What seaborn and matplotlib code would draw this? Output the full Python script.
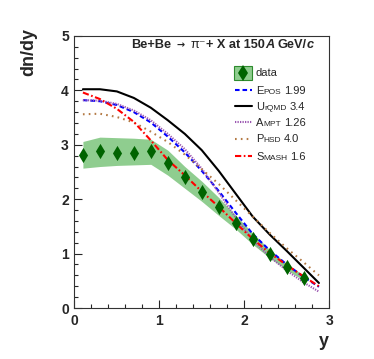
import numpy as np
import pandas as pd
import seaborn as sns
import matplotlib.pyplot as plt
from matplotlib.patches import Rectangle
from matplotlib.ticker import MultipleLocator
from matplotlib.transforms import IdentityTransform

# measured pi- rapidity spectrum (Be+Be, 150A GeV/c)
y_data = [0.1, 0.3, 0.5, 0.7, 0.9, 1.1, 1.3, 1.5, 1.7, 1.9, 2.1, 2.3, 2.5, 2.7]
dndy_data = [2.81, 2.88, 2.84, 2.84, 2.88, 2.66, 2.40, 2.13, 1.85, 1.57, 1.27, 0.99, 0.76, 0.56]
band_hi = [3.06, 3.14, 3.13, 3.12, 3.10, 2.90, 2.60, 2.33, 2.03, 1.70, 1.38, 1.07, 0.82, 0.60]
band_lo = [2.57, 2.60, 2.62, 2.63, 2.64, 2.44, 2.20, 1.96, 1.70, 1.45, 1.17, 0.92, 0.70, 0.51]

# model predictions
y_model = [0.1, 0.3, 0.5, 0.7, 0.9, 1.1, 1.3, 1.5, 1.7, 1.9, 2.1, 2.3, 2.5, 2.7, 2.88]
epos = [3.82, 3.80, 3.73, 3.60, 3.41, 3.15, 2.86, 2.52, 2.15, 1.75, 1.36, 1.06, 0.80, 0.57, 0.39]
urqmd = [4.02, 4.02, 3.98, 3.86, 3.68, 3.45, 3.20, 2.90, 2.52, 2.10, 1.68, 1.35, 1.05, 0.74, 0.46]
ampt = [3.82, 3.81, 3.75, 3.63, 3.45, 3.20, 2.92, 2.56, 2.12, 1.66, 1.25, 0.94, 0.69, 0.47, 0.30]
phsd = [3.56, 3.57, 3.51, 3.41, 3.24, 3.05, 2.82, 2.55, 2.28, 1.98, 1.68, 1.38, 1.10, 0.84, 0.60]
smash = [3.96, 3.84, 3.66, 3.42, 3.08, 2.72, 2.44, 2.14, 1.86, 1.56, 1.27, 1.01, 0.79, 0.58, 0.40]

# (first letter, small caps part, version)
model_names = [("E", "POS", "1.99"), ("U", "rQMD", "3.4"), ("A", "MPT", "1.26"),
               ("P", "HSD", "4.0"), ("S", "MASH", "1.6")]
model_values = [epos, urqmd, ampt, phsd, smash]
model_styles = [
    dict(color="#0000ff", linestyle=(0, (2.2, 1.4))),
    dict(color="black", linestyle="-"),
    dict(color="#9a55b0", linestyle=(0, (0.6, 0.6))),
    dict(color="#b47a45", linestyle=(0, (0.8, 2.0))),
    dict(color="#ff0000", linestyle=(0, (3.0, 1.2, 0.8, 1.2))),
]

band_color = "#8fcd8f"
data_color = "#006400"

sns.set_theme(style="ticks")
plt.rcParams["font.family"] = ["Liberation Sans", "DejaVu Sans"]

fig = plt.figure(figsize=(3.74, 3.59), dpi=100)
ax = fig.add_axes([0.199, 0.142, 0.681, 0.758])

ax.fill_between(y_data, band_lo, band_hi, color=band_color, lw=0, zorder=1)
for vals, st in zip(model_values, model_styles):
    sns.lineplot(x=y_model, y=vals, ax=ax, lw=1.5, zorder=2, **st)
sns.scatterplot(x=y_data, y=dndy_data, ax=ax, marker="d", s=60, color=data_color,
                linewidth=0, zorder=3)

ax.set_xlim(0, 3)
ax.set_ylim(0, 5)
ax.xaxis.set_major_locator(MultipleLocator(1))
ax.xaxis.set_minor_locator(MultipleLocator(0.2))
ax.yaxis.set_major_locator(MultipleLocator(1))
ax.yaxis.set_minor_locator(MultipleLocator(0.2))
ax.tick_params(which="major", direction="in", length=6, width=0.8, labelsize=10, pad=4)
ax.tick_params(which="minor", direction="in", length=3, width=0.8)
for lbl in ax.get_xticklabels() + ax.get_yticklabels():
    lbl.set_fontweight("bold")
for sp in ax.spines.values():
    sp.set_linewidth(0.8)
    sp.set_color("#333333")
ax.set_xlabel("")
ax.set_ylabel("")

fig.text(0.078, 0.922, "dn/dy", rotation=90, ha="center", va="top",
         fontsize=13, fontweight="bold")
fig.text(0.866, 0.05, "y", ha="center", va="center", fontsize=13, fontweight="bold")

H = fig.bbox.height
renderer = fig.canvas.get_renderer()


def chain_text(pieces, px, py):
    # pieces: (string, gap before in pixels, text kwargs); px, py in image pixels
    x = px
    for s, gap, kw in pieces:
        t = fig.text(x + gap, H - py, s, transform=IdentityTransform(),
                     va="baseline", ha="left", **kw)
        x = t.get_window_extent(renderer).x1


# header
B = dict(fontsize=9.2, fontweight="bold")
BI = dict(fontsize=9.2, fontweight="bold", fontstyle="italic")
chain_text([("Be+Be", 0, B),
            ("\u2192", 5, dict(fontsize=7, family="DejaVu Sans", fontweight="bold")),
            ("\u03c0\u207b", 6, dict(fontsize=9.2)),
            ("+ X at 150", 0, B), ("A", 0, BI), ("GeV/", 3, B), ("c", 0, BI)],
           131.5, 48.5)


def ax_x(px):
    return (px - 74.5) / 254.5


def ax_y(py):
    return (308 - py) / 272


# legend
rows = [73, 90, 106, 122, 139, 156]
ax.add_patch(Rectangle((ax_x(234), ax_y(80)), ax_x(252) - ax_x(234), ax_y(66) - ax_y(80),
                       transform=ax.transAxes, facecolor=band_color,
                       edgecolor="#2e8b2e", lw=0.8, zorder=4))
ax.plot([ax_x(243)], [ax_y(rows[0])], transform=ax.transAxes, marker="d",
        ms=8, color=data_color, mew=0, zorder=5)
chain_text([("data", 0, dict(fontsize=8))], 256, rows[0] + 3.5)
for row, name, st in zip(rows[1:], model_names, model_styles):
    ax.plot([ax_x(235), ax_x(252)], [ax_y(row), ax_y(row)], transform=ax.transAxes,
            lw=1.5, zorder=5, **st)
    big = dict(fontsize=8)
    small = dict(fontsize=6)
    chain_text([(name[0], 0, big), (name[1], 0.3, small), (name[2], 2.5, big)],
               256, row + 3.5)

fig.savefig("out.png", dpi=100)
